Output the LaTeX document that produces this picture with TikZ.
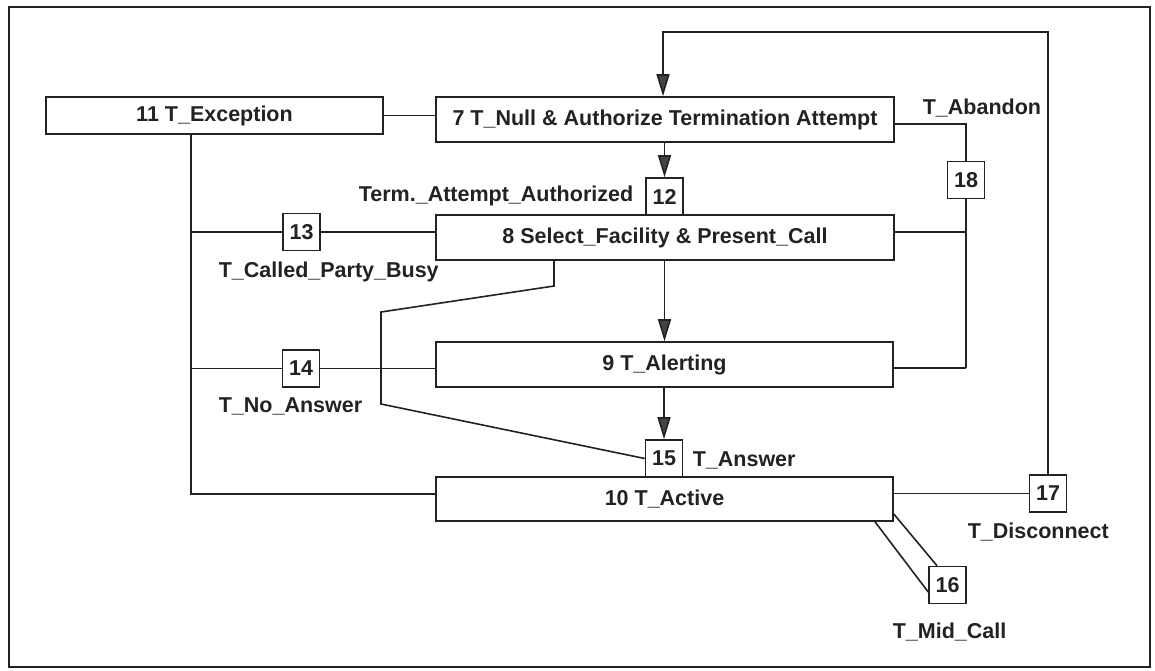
\documentclass[tikz,border=0pt]{standalone}
\usepackage{fontspec}
\setmainfont{Liberation Sans}
\usetikzlibrary{arrows.meta}
\definecolor{ink}{HTML}{222222}
\begin{document}
\begin{tikzpicture}[x=1pt,y=-1pt,
  line width=1.6pt, draw=ink,
  every node/.style={font=\fontsize{21.5}{25}\selectfont\bfseries, text=ink},
  state/.style={draw=ink, line width=1.6pt, inner sep=0pt, minimum height=45pt},
  dp/.style={draw=ink, line width=1.6pt, inner sep=0pt, minimum width=37pt, minimum height=37pt},
  lbl/.style={inner sep=0pt},
  arr/.style={-{Triangle[length=22pt,width=13pt,fill=ink!85]}, draw=ink}
]
\useasboundingbox (0,0) rectangle (1155,670);
\draw[line width=1.8pt] (9,7) rectangle (1150,667);

% states
\node[state, minimum width=337pt, minimum height=37pt] (b11) at (214.5,115.5) {11 T\_Exception};
\node[state, minimum width=458pt] (b7) at (665,119.5) {7 T\_Null \& Authorize Termination Attempt};
\node[state, minimum width=458pt] (b8) at (665,237.5) {8 Select\_Facility \& Present\_Call};
\node[state, minimum width=457pt] (b9) at (664.5,364.5) {9 T\_Alerting};
\node[state, minimum width=457pt, minimum height=44pt] (b10) at (664.5,499) {10 T\_Active};

% detection points
\node[dp] (b12) at (664.5,196.5) {12};
\node[dp] (b13) at (301.5,232) {13};
\node[dp] (b14) at (301,368.5) {14};
\node[dp] (b15) at (664,458.5) {15};
\node[dp] (b16) at (947.5,585) {16};
\node[dp] (b17) at (1048,493.5) {17};
\node[dp] (b18) at (966,180) {18};

% labels
\node[lbl, anchor=east] (lterm) at (634,196) {Term.\_Attempt\_Authorized};
\node[lbl, anchor=west] (laband) at (922,108) {T\_Abandon};
\node[lbl, anchor=west] (lbusy) at (218,272) {T\_Called\_Party\_Busy};
\node[lbl, anchor=west] (lnoans) at (218,406) {T\_No\_Answer};
\node[lbl, anchor=west] (lans) at (692,460) {T\_Answer};
\node[lbl, anchor=west] (ldisc) at (967,532) {T\_Disconnect};
\node[lbl, anchor=west] (lmid) at (892,632) {T\_Mid\_Call};

% routing points
\coordinate (lb) at (191,494);
\coordinate (top) at (663,32);
\coordinate (ab) at (966,124);
\coordinate (rb) at (966,368);
\coordinate (k1) at (554,286);
\coordinate (k2) at (381,312);
\coordinate (k3) at (381,404);

% exception bus on the left
\draw (b11.east) -- (b11.east -| b7.west);
\draw (b11.south -| lb) -- (lb) -- (lb -| b10.west);
\draw (b13.west -| lb) -- (b13.west);
\draw (b13.east) -- (b13.east -| b8.west);
\draw (b14.west -| lb) -- (b14.west);
\draw (b14.east) -- (b14.east -| b9.west);

% main flow
\draw[arr] (b17.north) -- (b17.north |- top) -- (top) -- (top |- b7.north);
\draw[arr] (b12.north |- b7.south) -- (b12.north);
\draw[arr] (b12.south |- b8.south) -- (b12.south |- b9.north);
\draw[arr] (b15.north |- b9.south) -- (b15.north);
\draw (b8.south -| k1) -- (k1) -- (k2) -- (k3) -- (b15.west);

% abandon bus on the right
\draw (b7.east |- ab) -- (ab) -- (b18.north);
\draw (b18.south) -- (rb);
\draw (b8.east |- 0,232) -- (966,232);
\draw (b9.east |- rb) -- (rb);

% active state exits
\draw (b10.east |- b17.west) -- (b17.west);
\draw (b10.south -| 875,0) -- (b16.west |- 0,592);
\draw (b10.east |- 0,514) -- (b16.north -| 937,0);
\end{tikzpicture}
\end{document}
